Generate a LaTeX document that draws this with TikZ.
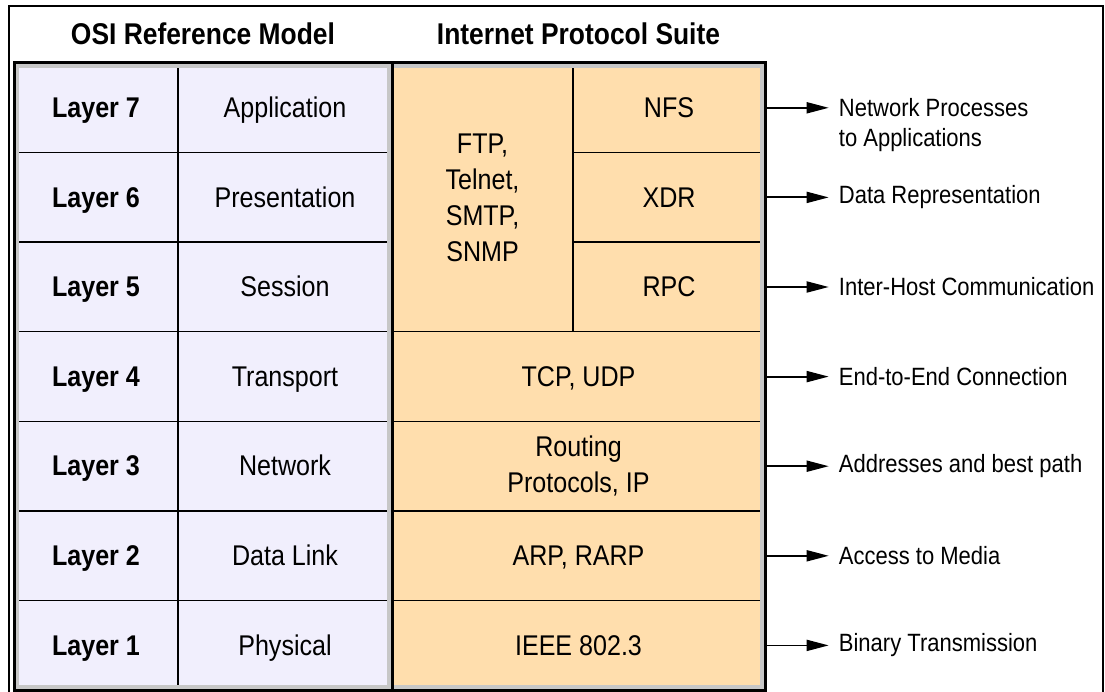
\documentclass[tikz,border=0pt]{standalone}
\usepackage{fontspec}
\setmainfont{Liberation Sans}[FakeStretch=0.88]
\usetikzlibrary{arrows.meta,positioning}
\definecolor{osifill}{RGB}{241,239,253}
\definecolor{ipsfill}{RGB}{255,222,173}

\begin{document}
\begin{tikzpicture}[
  x=1pt, y=-1pt,
  cell/.style={draw, line width=1.4pt, inner sep=0pt, minimum height=89.6pt,
    align=center, font=\fontsize{28.5}{36}\selectfont},
  oneline/.style={text height=20pt, text depth=0.5pt},
  osi/.style={cell, oneline, fill=osifill},
  laybox/.style={osi, minimum width=164pt, font=\fontsize{28.5}{36}\selectfont\bfseries},
  namebox/.style={osi, minimum width=214pt},
  ips/.style={cell, fill=ipsfill},
  head/.style={font=\fontsize{30}{36}\selectfont\bfseries},
  bevel/.style={draw=black!22, line width=3.5pt},
  lbl/.style={font=\fontsize{25}{30}\selectfont, align=left, inner xsep=10pt, inner ysep=0pt},
  arr/.style={line width=1.8pt, -{Triangle[length=22pt,width=11pt]}}
]
\useasboundingbox (0,0) rectangle (1105,692);
\draw[line width=1.2pt] (9,692) -- (9,6) -- (1103,6) -- (1103,692);

\node[head] (osihead) at (203,34) {OSI Reference Model};
\node[head] (ipshead) at (578.5,34) {Internet Protocol Suite};

% OSI layers
\foreach \n/\name [count=\i from 0] in {7/Application,6/Presentation,5/Session,
    4/Transport,3/Network,2/Data Link,1/Physical} {
  \node[laybox] (lay\n) at (96,{107.8+89.6*\i}) {Layer \n};
  \node[namebox] (name\n) at (285,{107.8+89.6*\i}) {\name};
}

% internet protocol suite
\node[ips, minimum width=181pt, minimum height=268.8pt] (app) at (482.5,197.4)
  {FTP,\\Telnet,\\SMTP,\\SNMP};
\node[ips, oneline, minimum width=192pt] (nfs) at (669,107.8) {NFS};
\node[ips, oneline, minimum width=192pt] (xdr) at (669,197.4) {XDR};
\node[ips, oneline, minimum width=192pt] (rpc) at (669,287) {RPC};
\node[ips, oneline, minimum width=373pt] (tcp) at (578.5,376.6) {TCP, UDP};
\node[ips, minimum width=373pt] (ip) at (578.5,466.2) {Routing\\Protocols, IP};
\node[ips, oneline, minimum width=373pt] (arp) at (578.5,555.8) {ARP, RARP};
\node[ips, oneline, minimum width=373pt] (phy) at (578.5,645.4) {IEEE 802.3};

% inner grey edge and outer borders
\draw[bevel] (17.2,66.2) rectangle (388.8,686.8);
\draw[bevel] (392,66.2) -- (761.8,66.2) -- (761.8,686.8) -- (392,686.8);
\draw[line width=3pt] (14,63) rectangle (392,690);
\draw[line width=3pt] (392,63) rectangle (765,690);

% functions
\node[lbl, below right=-9.6pt and 63pt of nfs.east] (lb7)
  {Network Processes\\to Applications};
\draw[arr] (nfs.east) -- (nfs.east -| lb7.west);
\foreach \src/\dst/\txt in {xdr/lb6/Data Representation,
    rpc/lb5/Inter-Host Communication, tcp/lb4/End-to-End Connection,
    ip/lb3/Addresses and best path, arp/lb2/Access to Media,
    phy/lb1/Binary Transmission} {
  \node[lbl, right=63pt of \src.east] (\dst) {\txt};
  \draw[arr] (\src.east) -- (\dst.west);
}
\end{tikzpicture}
\end{document}
